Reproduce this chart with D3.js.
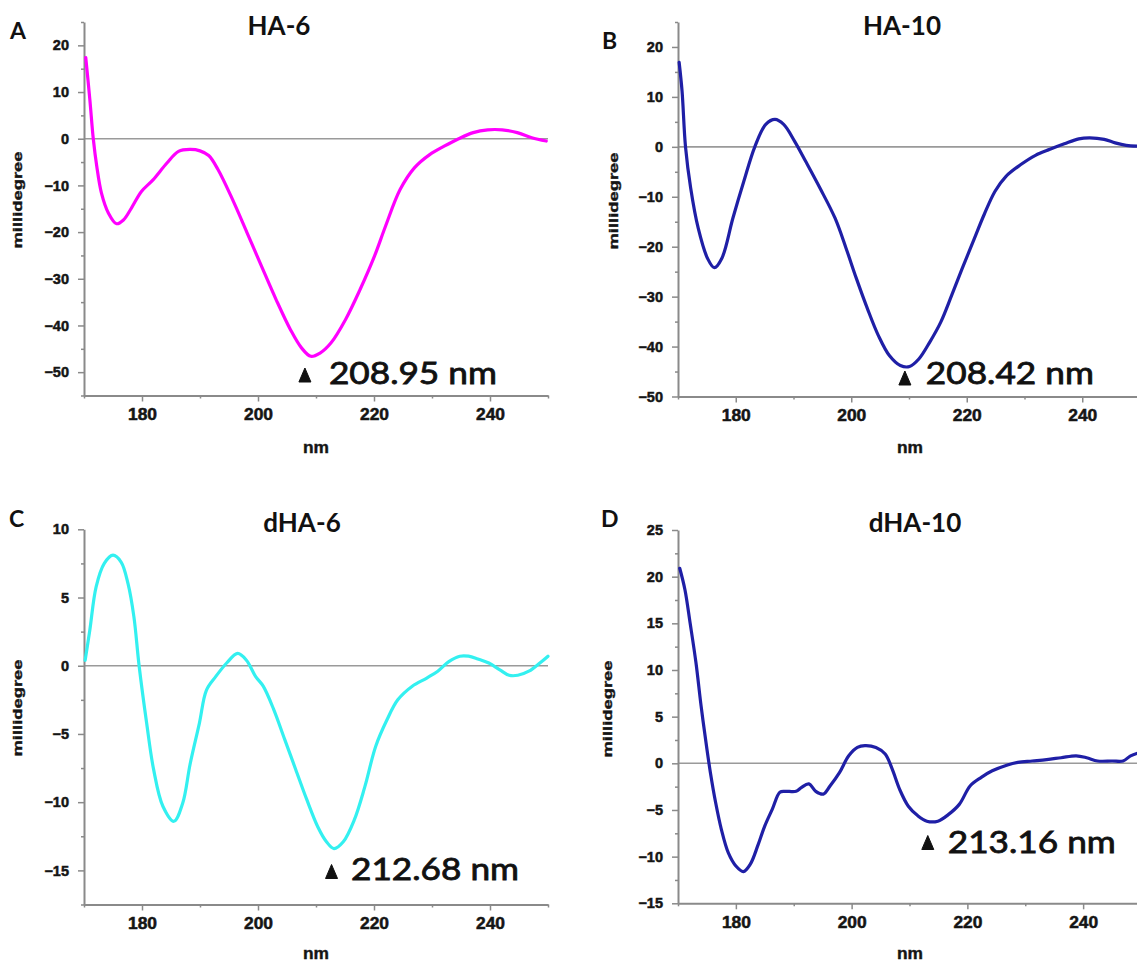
<!DOCTYPE html>
<html>
<head>
<meta charset="utf-8">
<script src="https://cdn.jsdelivr.net/npm/d3@7"></script>
<style>
  html, body { margin: 0; padding: 0; background: #fff; }
  svg { display: block; }
</style>
</head>
<body>
<svg id="chart" width="1137" height="963"></svg>
<script>
// ---------------- DATA ----------------
const titles = ["HA-6", "HA-10", "dHA-6", "dHA-10"];
const panelLetters = ["A", "B", "C", "D"];
const peakNm = [208.95, 208.42, 212.68, 213.16];
const peakLabels = ["208.95 nm", "208.42 nm", "212.68 nm", "213.16 nm"];
const xAxisLabel = "nm";
const yAxisLabel = "millidegree";

const xDomain = [170, 250];
const xMajorTicks = [180, 200, 220, 240];
const xMinorTicks = [170, 190, 210, 230, 250];

const yDomains = [[-55, 25], [-50, 25], [-17.5, 10], [-15, 25]];
const yMajorTicksA = [-50, -40, -30, -20, -10, 0, 10, 20];
const yMajorTicksB = [-50, -40, -30, -20, -10, 0, 10, 20];
const yMajorTicksC = [-15, -10, -5, 0, 5, 10];
const yMajorTicksD = [-15, -10, -5, 0, 5, 10, 15, 20, 25];
const yMinorTicksA = [-55, -45, -35, -25, -15, -5, 5, 15, 25];
const yMinorTicksB = [-45, -35, -25, -15, -5, 5, 15, 25];
const yMinorTicksC = [-17.5, -12.5, -7.5, -2.5, 2.5, 7.5];
const yMinorTicksD = [-12.5, -7.5, -2.5, 2.5, 7.5, 12.5, 17.5, 22.5];

// HA-6
const nmA = [170.3, 171.0, 171.6, 172.2, 173.0, 174.2, 175.6, 176.8, 178.2, 179.9, 181.9, 184.3, 186.3, 188.3, 190.0, 191.5, 193.1, 195.6, 198.1, 200.6, 203.1, 205.6, 207.5, 209.1, 210.7, 212.6, 215.1, 217.6, 220.1, 222.0, 224.5, 227.0, 229.6, 232.1, 234.6, 237.1, 239.6, 242.1, 244.7, 247.2, 249.7];
const mdegA = [17.4, 8.5, 0, -5.9, -11.6, -15.9, -18.2, -17.4, -14.8, -11.3, -8.8, -5.2, -2.7, -2.3, -2.6, -3.6, -6.6, -13.0, -20.1, -27.3, -34.4, -40.9, -44.8, -46.6, -45.9, -43.7, -38.7, -32.3, -25.1, -18.7, -10.9, -6.2, -3.4, -1.6, 0, 1.3, 1.9, 1.9, 1.3, 0.2, -0.5];

// HA-10
const nmB = [170.2, 170.7, 171.3, 172.2, 173.5, 175.1, 176.3, 177.6, 179.5, 181.4, 183.3, 185.2, 186.8, 188.3, 190.2, 192.1, 194.6, 197.2, 199.1, 200.9, 202.8, 204.7, 206.6, 208.5, 210.1, 211.7, 213.6, 215.5, 217.4, 219.2, 221.1, 223.0, 224.9, 226.8, 229.3, 231.9, 234.4, 236.9, 239.4, 241.3, 243.8, 245.7, 247.6, 250.0];
const mdegB = [16.9, 11.2, 0, -8.3, -16.3, -22.3, -24.2, -22.3, -14.3, -6.9, 0, 4.5, 5.5, 4.5, 1.1, -2.9, -8.3, -14.3, -20.3, -26.4, -32.4, -37.8, -41.8, -43.8, -44.0, -42.5, -39.1, -35.1, -29.7, -24.4, -19.0, -13.6, -8.9, -5.9, -3.6, -1.7, -0.5, 0.6, 1.6, 1.8, 1.5, 0.8, 0.3, 0.1];

// dHA-6
const nmC = [170.2, 171.0, 172.1, 173.5, 175.0, 176.4, 177.6, 178.6, 179.5, 180.8, 182.0, 183.6, 185.5, 187.0, 188.3, 189.9, 191.1, 192.7, 194.6, 196.5, 198.0, 199.6, 200.9, 202.7, 204.6, 206.5, 208.4, 210.3, 211.8, 213.1, 214.7, 216.6, 218.4, 220.3, 222.2, 224.1, 226.6, 229.1, 231.0, 232.9, 234.8, 236.3, 237.9, 239.8, 241.7, 243.3, 244.8, 246.7, 248.6, 250.0];
const mdegC = [0.4, 2.6, 5.8, 7.5, 8.1, 7.6, 6.0, 3.6, 0, -4.2, -7.6, -10.3, -11.4, -10.1, -7.2, -4.2, -1.8, -0.8, 0.2, 0.9, 0.4, -0.8, -1.5, -3.2, -5.4, -7.6, -9.8, -11.8, -12.9, -13.4, -12.9, -11.3, -8.9, -5.9, -4.0, -2.5, -1.5, -0.9, -0.4, 0.3, 0.7, 0.7, 0.5, 0.2, -0.3, -0.7, -0.7, -0.4, 0.2, 0.7];

// dHA-10
const nmD = [170.3, 171.2, 172.1, 173.1, 174.0, 175.0, 175.6, 176.5, 177.5, 178.7, 180.0, 181.3, 182.5, 183.8, 185.0, 186.3, 187.6, 188.5, 190.4, 191.3, 192.6, 193.8, 195.1, 196.3, 197.9, 199.5, 201.0, 202.3, 204.2, 205.8, 207.0, 208.3, 209.8, 211.4, 213.0, 214.9, 216.7, 218.6, 220.5, 222.4, 224.3, 226.8, 228.7, 231.2, 233.7, 236.2, 238.8, 240.6, 242.5, 245.0, 246.9, 248.2, 249.5];
const mdegD = [20.9, 18.6, 15.0, 10.8, 6.1, 1.5, -1.0, -4.2, -7.1, -9.6, -11.0, -11.6, -10.8, -8.8, -6.7, -4.9, -3.1, -3.0, -3.0, -2.6, -2.2, -3.0, -3.3, -2.4, -1.0, 0.8, 1.7, 1.9, 1.7, 1.0, -0.6, -2.8, -4.6, -5.6, -6.2, -6.2, -5.5, -4.4, -2.4, -1.5, -0.8, -0.2, 0.1, 0.25, 0.4, 0.6, 0.8, 0.6, 0.25, 0.25, 0.25, 0.8, 1.1];

const seriesNm = [nmA, nmB, nmC, nmD];
const seriesMdeg = [mdegA, mdegB, mdegC, mdegD];
const yMajor = [yMajorTicksA, yMajorTicksB, yMajorTicksC, yMajorTicksD];
const yMinor = [yMinorTicksA, yMinorTicksB, yMinorTicksC, yMinorTicksD];

// ---------------- LAYOUT / STYLE ----------------
const lineColors = ["#ff00ff", "#1f1fa6", "#33f0f0", "#1f1fa6"];
const layout = [
  { x0: 84,  x1: 548,  yTop: 22,  yBot: 395.5, titleX: 279, titleY: 35, letX: 10, letY: 38.5, ylabX: 17,  ylabY: 200, nmX: 316, nmY: 453, triDx: -5, triBase: 382, txtDx: 24, txtY: 383.5 },
  { x0: 678, x1: 1140, yTop: 22,  yBot: 396.5, titleX: 902, titleY: 35, letX: 602, letY: 49, ylabX: 613, ylabY: 201, nmX: 910, nmY: 453, triDx: 5,  triBase: 385, txtDx: 21, txtY: 383.5 },
  { x0: 84,  x1: 548,  yTop: 529.3, yBot: 904.5, titleX: 302, titleY: 531.5, letX: 9, letY: 527, ylabX: 17, ylabY: 708, nmX: 316, nmY: 959, triDx: 0, triBase: 878.5, txtDx: 19.5, txtY: 880 },
  { x0: 678, x1: 1141, yTop: 530, yBot: 903.3, titleX: 915, titleY: 531.5, letX: 601, letY: 527, ylabX: 607, ylabY: 709, nmX: 910, nmY: 959, triDx: 0, triBase: 849.5, txtDx: 20, txtY: 852.5 }
];

const svg = d3.select("#chart");
svg.append("rect").attr("width", 1137).attr("height", 963).attr("fill", "#fff");

const axisColor = "#8a8a8a";
const tickFont = "'Liberation Sans', Arial, sans-serif";
const labelFont = "Lato, 'Open Sans', sans-serif";
const inkColor = "#151515";

layout.forEach((L, i) => {
  const x = d3.scaleLinear().domain(xDomain).range([L.x0, L.x1]);
  const y = d3.scaleLinear().domain(yDomains[i]).range([L.yBot, L.yTop]);
  const g = svg.append("g");

  // zero line
  g.append("line")
    .attr("x1", x(xDomain[0])).attr("x2", x(xDomain[1]))
    .attr("y1", y(0)).attr("y2", y(0))
    .attr("stroke", "#9a9a9a").attr("stroke-width", 1.6);

  // x axis (major + minor)
  const xAx = g.append("g").attr("transform", `translate(0,${L.yBot})`)
    .call(d3.axisBottom(x).tickValues(xMajorTicks).tickSize(6).tickSizeOuter(0).tickPadding(7).tickFormat(d3.format("d")));
  g.append("g").attr("transform", `translate(0,${L.yBot})`)
    .call(d3.axisBottom(x).tickValues(xMinorTicks).tickSize(3).tickSizeOuter(0).tickFormat(""))
    .select(".domain").remove();
  xAx.selectAll("text")
    .attr("font-family", tickFont).attr("font-weight", "bold").attr("font-size", 16)
    .attr("fill", inkColor).attr("stroke", inkColor).attr("stroke-width", 0.5)
    .attr("textLength", 29).attr("lengthAdjust", "spacingAndGlyphs");

  // y axis (major + minor)
  const yAx = g.append("g").attr("transform", `translate(${L.x0},0)`)
    .call(d3.axisLeft(y).tickValues(yMajor[i]).tickSize(6).tickSizeOuter(0).tickPadding(9).tickFormat(d3.format("d")));
  g.append("g").attr("transform", `translate(${L.x0},0)`)
    .call(d3.axisLeft(y).tickValues(yMinor[i]).tickSize(3).tickSizeOuter(0).tickFormat(""))
    .select(".domain").remove();
  yAx.selectAll("text")
    .attr("font-family", tickFont).attr("font-weight", "bold").attr("font-size", 14.5)
    .attr("fill", inkColor).attr("stroke", inkColor).attr("stroke-width", 0.5);

  g.selectAll(".domain").attr("stroke", axisColor).attr("stroke-width", 2);
  g.selectAll(".tick line").attr("stroke", axisColor).attr("stroke-width", 1.5);

  // curve
  const pts = seriesNm[i].map((n, k) => [n, seriesMdeg[i][k]]);
  const line = d3.line().x(d => x(d[0])).y(d => y(d[1])).curve(d3.curveCatmullRom.alpha(0.5));
  g.append("path").datum(pts)
    .attr("d", line)
    .attr("fill", "none")
    .attr("stroke", lineColors[i])
    .attr("stroke-width", 3.2)
    .attr("stroke-linejoin", "round")
    .attr("stroke-linecap", "round");

  // title
  g.append("text").text(titles[i])
    .attr("x", L.titleX).attr("y", L.titleY)
    .attr("text-anchor", "middle")
    .attr("font-family", labelFont).attr("font-weight", "bold").attr("font-size", 26)
    .attr("fill", "#111");

  // panel letter
  g.append("text").text(panelLetters[i])
    .attr("x", L.letX).attr("y", L.letY)
    .attr("font-family", labelFont).attr("font-weight", "bold").attr("font-size", 23)
    .attr("fill", "#111");

  // axis labels
  g.append("text").text(yAxisLabel)
    .attr("transform", `translate(${L.ylabX + 5},${L.ylabY}) rotate(-90)`)
    .attr("text-anchor", "middle")
    .attr("font-family", tickFont).attr("font-weight", "bold").attr("font-size", 13.5)
    .attr("textLength", 97).attr("lengthAdjust", "spacingAndGlyphs")
    .attr("fill", inkColor).attr("stroke", inkColor).attr("stroke-width", 0.4);
  g.append("text").text(xAxisLabel)
    .attr("x", L.nmX).attr("y", L.nmY)
    .attr("text-anchor", "middle")
    .attr("font-family", tickFont).attr("font-weight", "bold").attr("font-size", 16)
    .attr("textLength", 26).attr("lengthAdjust", "spacingAndGlyphs")
    .attr("fill", inkColor).attr("stroke", inkColor).attr("stroke-width", 0.4);

  // peak annotation
  const tx = x(peakNm[i]) + L.triDx;
  g.append("path")
    .attr("d", `M${tx - 6},${L.triBase} L${tx + 6},${L.triBase} L${tx},${L.triBase - 14} Z`)
    .attr("fill", "#111").attr("stroke", "#111").attr("stroke-width", 1).attr("stroke-linejoin", "round");
  g.append("text").text(peakLabels[i])
    .attr("x", tx + L.txtDx).attr("y", L.txtY)
    .attr("font-family", labelFont).attr("font-size", 30)
    .attr("textLength", 168).attr("lengthAdjust", "spacingAndGlyphs")
    .attr("fill", "#111").attr("stroke", "#111").attr("stroke-width", 0.8);
});
</script>
</body>
</html>
